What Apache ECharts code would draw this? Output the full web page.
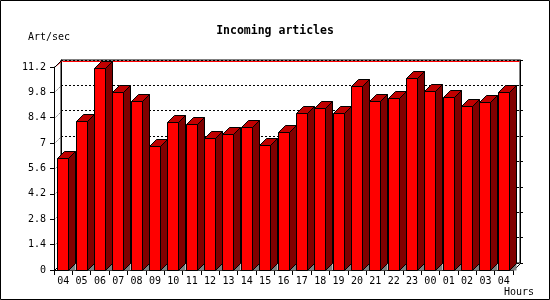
<!DOCTYPE html>
<html><head><meta charset="utf-8">
<script src="https://cdn.jsdelivr.net/npm/echarts@6/dist/echarts.min.js"></script>
<style>html,body{margin:0;padding:0;background:#fff}#c{width:550px;height:300px}</style>
</head><body><div id="c"></div>
<script>
const hours = ['04','05','06','07','08','09','10','11','12','13','14','15','16','17','18','19','20','21','22','23','00','01','02','03','04'];
const artPerSec = [6.16,8.20,11.13,9.80,9.31,6.84,8.15,8.04,7.26,7.48,7.89,6.90,7.60,8.64,8.92,8.64,10.13,9.31,9.47,10.57,9.86,9.53,9.03,9.25,9.80];
const yTicks = [0,1.4,2.8,4.2,5.6,7,8.4,9.8,11.2];
const titleText = 'Incoming articles';
const yName = 'Art/sec';
const xName = 'Hours';

const D = 7;
const FONT = 'DejaVu Sans Mono';
const chart = echarts.init(document.getElementById('c'), null, {renderer:'canvas'});
const yMin = yTicks[0], yMax = yTicks[yTicks.length-1], yInt = yTicks[1]-yTicks[0];
const fmt = v => String(+(+v).toFixed(1));
const c = x => Math.round(x) + 0.5;

chart.setOption({
  animation:false,
  backgroundColor:'#fff',
  title:{text:titleText, left:'center', top:20, textStyle:{fontFamily:FONT, fontSize:11.5, fontWeight:'bold', color:'#000'}},
  grid:[
    {left:54, right:37, top:67, bottom:30},
    {left:61, right:30, top:60, bottom:37, show:true, borderColor:'#000', borderWidth:1, backgroundColor:'transparent'}
  ],
  xAxis:[
    {type:'category', gridIndex:0, data:hours,
     axisLine:{lineStyle:{color:'#000', width:1}},
     axisTick:{show:true, length:5, lineStyle:{color:'#000'}},
     axisLabel:{fontFamily:FONT, fontSize:10, color:'#000', margin:6, interval:0},
     splitLine:{show:false}},
    {type:'category', gridIndex:1, data:hours, show:false}
  ],
  yAxis:[
    {type:'value', gridIndex:0, min:yMin, max:yMax, interval:yInt,
     axisLine:{show:true, lineStyle:{color:'#000'}},
     axisTick:{show:true, length:4, lineStyle:{color:'#000'}},
     axisLabel:{fontFamily:FONT, fontSize:10, color:'#000', margin:8, formatter:fmt},
     splitLine:{show:false}},
    {type:'value', gridIndex:1, min:yMin, max:yMax, interval:yInt,
     axisLine:{show:true, lineStyle:{color:'#000'}},
     axisTick:{show:false}, axisLabel:{show:false},
     splitLine:{show:true, lineStyle:{color:'#000', type:[2,2], width:1}}},
    {type:'value', gridIndex:1, position:'right', min:yMin, max:yMax, interval:yInt,
     axisLine:{show:true, lineStyle:{color:'#000'}},
     axisTick:{show:true, inside:false, length:3, lineStyle:{color:'#000'}},
     axisLabel:{show:false}, splitLine:{show:false}}
  ],
  series:[
    {type:'custom', xAxisIndex:0, yAxisIndex:0, z:5,
     data: yTicks.map(v=>[0,v]),
     renderItem:(params, api)=>{
       const cs = params.coordSys;
       const p = api.coord([0, api.value(1)]);
       const x = cs.x, y = p[1];
       const v = api.value(1);
       const solid = (v===yMax || v===yMin);
       return {type:'line', shape:{x1:c(x), y1:c(y), x2:c(x)+D, y2:c(y)-D},
         style:{stroke:'#000', lineWidth:1, lineDash: solid? null : [1,2]}};
     }},
    {type:'custom', xAxisIndex:0, yAxisIndex:0, z:6,
     data: hours.map((h,i)=>[i, artPerSec[i]]),
     renderItem:(params, api)=>{
       const i = api.value(0), v = api.value(1);
       const top = api.coord([i, v]);
       const base = api.coord([i, 0]);
       const bw = api.size([1,0])[0];
       const w = Math.round(bw*0.6);
       const x0 = c(top[0] - w/2 - 0.5);
       const x1 = x0 + w;
       const yt = c(top[1]);
       const yb = c(base[1]);
       return {type:'group', children:[
         {type:'polygon', shape:{points:[[x1,yb],[x1+D,yb-D],[x1+D,yb]]}, style:{fill:'#808080', stroke:null}},
         {type:'polygon', shape:{points:[[x1,yt],[x1+D,yt-D],[x1+D,yb-D],[x1,yb]]}, style:{fill:'#800000', stroke:'#000', lineWidth:1}},
         {type:'polygon', shape:{points:[[x0,yt],[x0+D,yt-D],[x1+D,yt-D],[x1,yt]]}, style:{fill:'#c00000', stroke:'#000', lineWidth:1}},
         {type:'rect', shape:{x:x0, y:yt, width:w, height:yb-yt}, style:{fill:'#ff0000', stroke:'#000', lineWidth:1}}
       ]};
     }},
    {type:'custom', xAxisIndex:0, yAxisIndex:0, z:4,
     data:[[0,0]],
     renderItem:(params, api)=>{
       const cs = params.coordSys;
       const xr = c(cs.x + cs.width), yb = c(cs.y + cs.height), yt = c(cs.y);
       return {type:'group', children:[
         {type:'line', shape:{x1:xr, y1:yb, x2:xr+D, y2:yb-D}, style:{stroke:'#000', lineWidth:1}},
         {type:'line', shape:{x1:c(cs.x)+D+1, y1:yt-D+1, x2:xr+D-1, y2:yt-D+1}, style:{stroke:'#ff0000', lineWidth:1}},
         {type:'line', shape:{x1:c(cs.x)+1, y1:yt-1, x2:c(cs.x)+D, y2:yt-D+1}, style:{stroke:'#ff0000', lineWidth:1}}
       ]};
     }}
  ],
  graphic:[
    {type:'rect', shape:{x:0.5, y:0.5, width:549, height:299}, style:{fill:null, stroke:'#000', lineWidth:1}, z:100},
    {type:'text', left:28, top:32, style:{text:yName, font:'10px "DejaVu Sans Mono"', fill:'#000'}},
    {type:'text', right:16, top:287, style:{text:xName, font:'10px "DejaVu Sans Mono"', fill:'#000'}}
  ]
});
</script></body></html>
